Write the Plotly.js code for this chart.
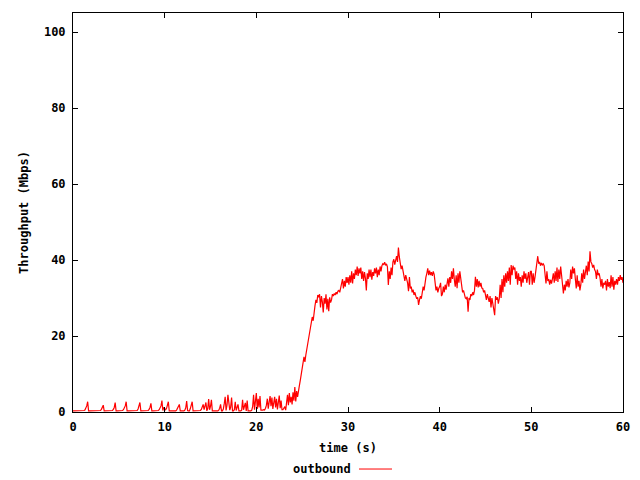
<!DOCTYPE html>
<html>
<head>
<meta charset="utf-8">
<script src="https://cdn.plot.ly/plotly-3.0.1.min.js"></script>
<style>html,body{margin:0;padding:0;background:#fff;}#chart{width:640px;height:480px;}</style>
</head>
<body>
<div id="chart"></div>
<script>
// Sample spacing of the measurement (s)
const sampleStep = 0.1;
const seriesName = "outbound";
const xTickVals = [0, 10, 20, 30, 40, 50, 60];
const yTickVals = [0, 20, 40, 60, 80, 100];
const xTitle = "time (s)";
const yTitle = "Throughput (Mbps)";

// Throughput (Mbps), one value per 0.1 s
const seg0to10 = [
  0.3,0.3,0.3,0.3,0.3,0.3,0.3,0.3,0.3,0.3,
  0.3,0.3,0.4,0.5,0.9,1.6,2.7,0.3,0.3,0.3,
  0.3,0.3,0.3,0.3,0.3,0.3,0.3,0.3,0.3,0.3,
  0.4,0.7,1.3,1.8,0.3,0.3,0.3,0.3,0.3,0.3,
  0.3,0.3,0.3,0.4,0.7,1.2,2.5,0.3,0.3,0.3,
  0.3,0.3,0.3,0.3,0.4,0.6,1.0,1.6,2.7,0.3,
  0.3,0.3,0.3,0.3,0.3,0.3,0.3,0.3,0.3,0.3,
  0.4,0.8,1.5,2.5,0.3,0.3,0.3,0.3,0.3,0.3,
  0.3,0.3,0.4,0.7,1.2,2.3,0.3,0.3,0.3,0.3,
  0.3,0.3,0.3,0.4,0.6,1.0,1.6,3.0,0.4,1.2
];
const seg10to20 = [
  1.0,0.6,0.9,1.7,2.7,0.3,0.3,0.3,0.3,0.3,
  0.3,0.3,0.3,0.5,0.9,1.5,2.0,0.3,0.3,0.3,
  0.3,0.3,0.5,1.1,2.9,0.4,0.3,0.3,0.9,1.6,
  2.7,0.3,0.3,0.3,0.3,0.3,0.3,0.3,0.3,0.4,
  0.7,1.2,2.0,0.6,1.4,2.5,0.3,0.9,3.4,0.6,
  1.5,3.2,0.3,0.3,0.3,0.3,0.3,0.3,0.3,0.5,
  1.0,2.0,0.3,0.3,0.8,2.2,4.0,0.4,1.8,4.5,
  2.4,0.5,1.3,3.8,0.3,0.3,0.6,2.7,0.4,1.2,
  2.0,0.3,0.3,0.3,0.5,3.2,0.6,1.5,2.4,0.3,
  3.0,0.3,0.3,0.3,0.3,0.5,1.5,4.5,0.6,2.8
];
const seg20to30 = [
  5.0,0.8,3.5,1.2,4.2,0.5,
  0.4,0.5,0.6,0.5,1.0,
  1.8,3.5,0.9,2.6,4.2,1.5,3.8,
  0.8,2.4,4.0,1.2,3.5,0.7,2.8,4.3,1.0,3.0,0.6,
  0.6,1.0,1.4,0.5,2.0,
  4.5,1.8,5.0,2.5,4.0,
  2.0,5.2,3.0,6.6,2.8,5.5,4.0,6.2,
  7.0,8.4,10.5,11.9,13.0,14.5,13.2,15.0,16.3,17.5,19.0,20.2,21.6,23.0,25.0,24.0,26.8,28.0,29.5,28.7,30.8,30.2,31.0,
  27.5,30.5,29.0,26.2,30.0,28.5,31.0,27.0,29.8,26.5,30.2,28.8,29.5,31.0,
  30.5,31.2,30.8,31.5,31.0,31.8,32.0,31.5,32.5,
  33.5,35.0,32.5,34.5,33.0,35.5,34.0
];
const seg30to40 = [
  35.5,33.5,36.0,34.0,37.0,33.8,36.5,35.0,37.5,
  36.0,38.3,35.8,37.8,36.5,38.0,
  35.0,37.0,34.5,36.8,35.2,
  32.0,36.5,35.0,37.5,
  35.5,37.5,34.8,36.8,35.8,37.8,
  36.5,38.0,35.5,37.5,36.0,38.3,37.0,
  38.5,39.0,38.8,39.4,38.6,39.0,38.2,
  33.4,
  37.0,35.0,38.0,36.0,
  39.5,40.2,38.8,40.5,
  41.0,39.5,43.3,40.8,
  39.0,37.6,38.5,37.0,
  36.5,34.5,36.0,35.0,
  34.0,31.8,35.5,32.5,
  33.0,31.5,32.2,30.8,31.5,
  30.5,29.8,30.2,
  28.2,
  29.5,30.5,29.8,31.0,
  33.0,32.0,34.5,35.5,
  36.5,37.8,36.0,37.2,
  36.0,36.8,35.8,37.0,36.2,
  33.5,32.0,33.0,31.5,32.5
];
const seg40to50 = [
  33.0,34.0,
  30.5,31.0,
  33.0,31.5,33.5,32.2,34.0,
  35.2,33.0,35.5,34.0,
  37.0,35.0,37.8,34.8,
  33.0,36.0,32.6,
  36.5,34.0,37.0,34.5,
  33.0,31.5,32.0,
  30.5,30.0,29.8,30.3,
  26.4,30.0,29.5,
  31.0,30.5,31.5,30.8,32.0,
  35.6,33.0,35.0,32.8,
  34.5,33.0,34.0,32.6,
  32.5,31.5,32.0,30.8,
  29.5,31.0,30.0,29.0,
  30.5,27.5,30.0,28.0,
  26.5,25.5,
  30.5,29.5,30.2,28.5,29.8,
  33.5,30.0,35.0,31.5,
  36.0,33.0,36.5,34.0,37.0,
  34.5,38.0,33.5,38.7,36.0,
  38.5,37.5,38.0,
  35.0,37.0,33.5,36.5,34.5,
  35.5,33.0,36.0,34.0,37.0,35.0,
  36.5,34.0,35.5,36.8,33.5,37.0
];
const seg50to60 = [
  37.0,33.5,36.5,34.0,35.5,
  37.5,38.0,
  41.0,39.0,
  39.5,38.5,39.2,38.7,39.0,38.5,
  36.0,33.8,37.0,34.5,
  35.0,33.5,34.8,33.8,35.0,
  36.5,34.0,37.0,34.5,
  38.0,34.2,37.5,35.0,38.3,36.0,
  34.0,31.2,33.5,32.0,
  34.5,33.0,35.0,32.8,34.0,
  37.5,35.0,38.3,36.5,37.8,
  35.0,32.5,36.0,33.0,
  34.5,32.0,33.5,
  36.5,34.0,37.5,35.0,36.8,
  38.5,36.0,39.6,37.0,
  42.3,39.5,
  39.0,38.0,38.7,37.5,
  37.0,35.0,37.5,36.0,36.5,35.2,
  33.0,35.0,32.5,34.0,33.5,
  34.5,32.0,35.0,33.0,34.2,32.6,
  36.0,33.0,35.5,32.2,34.5,33.5,
  35.0,33.5,35.5,34.5,36.0,34.8,35.5,34.0
];

const throughput = [].concat(seg0to10, seg10to20, seg20to30, seg30to40, seg40to50, seg50to60);
const times = throughput.map((_, i) => Math.round(i * sampleStep * 10) / 10);

const font = {family: "DejaVu Sans Mono, Liberation Mono, monospace", size: 12, color: "#000", weight: "bold"};

const trace = {
  x: times, y: throughput, type: "scatter", mode: "lines", name: seriesName,
  line: {color: "#ff0000", width: 1.2}, showlegend: false
};

const axisCommon = {
  showline: true, linecolor: "#000", linewidth: 1, mirror: "ticks",
  ticks: "inside", ticklen: 5, tickcolor: "#000", tickwidth: 1,
  showgrid: false, zeroline: false, tickfont: font
};

const layout = {
  width: 640, height: 480,
  margin: {l: 73, r: 17, t: 13, b: 68},
  paper_bgcolor: "#fff", plot_bgcolor: "#fff",
  font: font,
  xaxis: Object.assign({}, axisCommon, {
    range: [0, 60], tickvals: xTickVals, ticktext: xTickVals.map(String),
    ticklabelstandoff: 4,
    title: {text: xTitle, font: font, standoff: 10}
  }),
  yaxis: Object.assign({}, axisCommon, {
    range: [0, 105], tickvals: yTickVals, ticktext: yTickVals.map(String),
    ticklabelstandoff: 4,
    title: {text: yTitle, font: font, standoff: 12}
  }),
  annotations: [{
    xref: "paper", yref: "paper", x: 0.509, y: -0.1429,
    xanchor: "right", yanchor: "middle", showarrow: false,
    text: seriesName, font: font
  }],
  shapes: [{
    type: "line", xref: "paper", yref: "paper",
    x0: 0.52, x1: 0.58, y0: -0.1429, y1: -0.1429,
    line: {color: "#ff0000", width: 1}
  }]
};

Plotly.newPlot("chart", [trace], layout, {staticPlot: true, displayModeBar: false});
</script>
</body>
</html>
